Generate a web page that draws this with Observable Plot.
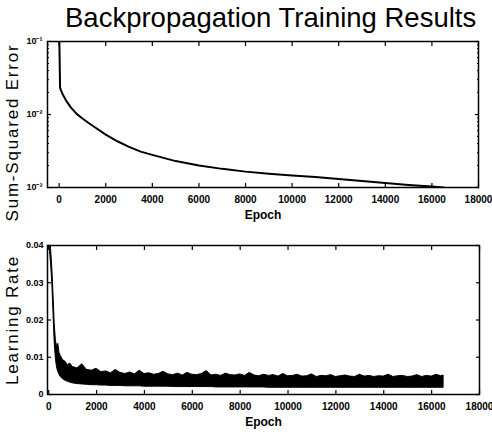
<!DOCTYPE html>
<html><head><meta charset="utf-8">
<script src="https://cdn.jsdelivr.net/npm/d3@7"></script>
<script src="https://cdn.jsdelivr.net/npm/@observablehq/plot@0.6"></script>
<style>
body{margin:0;background:#fff;width:492px;height:432px;overflow:hidden;font-family:"Liberation Sans",Arial,sans-serif;}
#title{height:34px;box-sizing:border-box;padding-left:65px;padding-top:4px;font-size:27.5px;line-height:27px;color:#000;white-space:nowrap;}
svg{display:block}
</style></head><body>
<div id="title">Backpropagation Training Results</div>
<div id="chart"></div>
<script>
// Top panel: sum-squared error (log scale)
const sseEpoch = [0, 40, 150, 300, 500, 750, 1000, 1250, 1500, 2000, 2500, 3000, 3500, 4000, 5000, 6000, 7000, 8000, 9000, 10000, 11000, 12000, 13000, 14000, 15000, 16000, 16500];
const sseValue = [0.15, 0.023, 0.019, 0.0155, 0.0125, 0.0102, 0.0088, 0.0077, 0.0068, 0.0053, 0.0043, 0.0036, 0.0031, 0.0028, 0.0023, 0.0020, 0.0018, 0.00165, 0.00154, 0.00146, 0.00139, 0.00131, 0.00123, 0.00115, 0.00108, 0.00103, 0.0010];

// Bottom panel: learning rate (noisy band: lower and upper envelope)
const lrEpoch = [0,50,100,150,200,250,300,350,400,450,500,600,700,800,900,1000,
  1200,1400,1600,1800,2000,2200,2400,2600,2800,3000,3200,3400,3600,3800,4000,4200,4400,4600,4800,5000,
  5200,5400,5600,5800,6000,6200,6400,6600,6800,7000,7200,7400,7600,7800,8000,8200,8400,8600,8800,9000,
  9200,9400,9600,9800,10000,10200,10400,10600,10800,11000,11200,11400,11600,11800,12000,12200,12400,12600,12800,13000,
  13200,13400,13600,13800,14000,14200,14400,14600,14800,15000,15200,15400,15600,15800,16000,16200,16400,16500];
const lrUpper = [0.046,0.043,0.039,0.034,0.027,0.019,0.0145,0.0128,0.0136,0.0112,0.0104,0.0092,0.0088,0.0079,0.0083,0.0074,
  0.0070,0.0081,0.0066,0.0064,0.0069,0.0060,0.0062,0.0057,0.0066,0.0058,0.0055,0.0059,0.0054,0.0064,0.0055,0.0057,0.0053,0.0055,0.0061,0.0054,
  0.0052,0.0056,0.0051,0.0058,0.0053,0.0052,0.0055,0.0063,0.0051,0.0053,0.0050,0.0056,0.0052,0.0051,0.0054,0.0050,0.0058,0.0051,0.0049,0.0053,
  0.0050,0.0052,0.0048,0.0055,0.0049,0.0050,0.0053,0.0048,0.0049,0.0054,0.0047,0.0050,0.0049,0.0052,0.0047,0.0049,0.0051,0.0048,0.0047,0.0053,
  0.0048,0.0050,0.0047,0.0049,0.0048,0.0053,0.0047,0.0049,0.0050,0.0047,0.0048,0.0052,0.0047,0.0050,0.0048,0.0053,0.0049,0.0051];
const lrLower = [0.042,0.039,0.035,0.030,0.022,0.014,0.0095,0.0072,0.0060,0.0053,0.0047,0.0041,0.0037,0.0034,0.0032,0.0030,
  0.0028,0.0027,0.0026,0.0025,0.0025,0.0024,0.0024,0.0023,0.0023,0.0023,0.0022,0.0022,0.0022,0.0022,0.0021,0.0021,0.0021,0.0021,0.0021,0.0021,
  0.0020,0.0020,0.0020,0.0020,0.0020,0.0020,0.0020,0.0020,0.0020,0.0019,0.0019,0.0019,0.0019,0.0019,0.0019,0.0019,0.0019,0.0019,0.0019,0.0019,
  0.0018,0.0018,0.0018,0.0018,0.0018,0.0018,0.0018,0.0018,0.0018,0.0018,0.0018,0.0018,0.0018,0.0018,0.0018,0.0018,0.0018,0.0018,0.0018,0.0018,
  0.0018,0.0018,0.0018,0.0018,0.0018,0.0018,0.0018,0.0018,0.0018,0.0018,0.0018,0.0018,0.0018,0.0018,0.0018,0.0018,0.0018,0.0018];

// Ticks and labels
const xTicks = [0,2000,4000,6000,8000,10000,12000,14000,16000,18000];
const sseTicks = [1e-3, 1e-2, 1e-1];
const sseTickLabels = ["10\u207B\u00B3", "10\u207B\u00B2", "10\u207B\u00B9"];
const lrTicks = [0, 0.01, 0.02, 0.03, 0.04];
const lrTickLabels = ["0", "0.01", "0.02", "0.03", "0.04"];
const xLabel = "Epoch";
const sseLabel = "Sum-Squared Error";
const lrLabel = "Learning Rate";

const sse = sseEpoch.map((e, i) => ({epoch: e, value: sseValue[i]}));
const lr = lrEpoch.map((e, i) => ({epoch: e, upper: lrUpper[i], lower: lrLower[i]}));
const minorLog = d3.scaleLog().domain([1e-3, 1e-1]).ticks();
const font = "Liberation Sans, Arial, sans-serif";
const blank = () => "";

const innerTicks = (xt, yt, ytMinor) => [
  Plot.axisX(xt, {anchor: "bottom", tickSize: -4, tickFormat: blank, label: null, strokeWidth: 1.2}),
  Plot.axisX(xt, {anchor: "top", tickSize: -4, tickFormat: blank, label: null, strokeWidth: 1.2}),
  Plot.axisY(yt, {anchor: "left", tickSize: -4, tickFormat: blank, label: null, strokeWidth: 1.2}),
  Plot.axisY(yt, {anchor: "right", tickSize: -4, tickFormat: blank, label: null, strokeWidth: 1.2}),
  ...(ytMinor ? [
    Plot.axisY(ytMinor, {anchor: "left", tickSize: -2, tickFormat: blank, label: null}),
    Plot.axisY(ytMinor, {anchor: "right", tickSize: -2, tickFormat: blank, label: null})
  ] : [])
];

const topPlot = Plot.plot({
  width: 492, height: 194,
  marginTop: 7, marginLeft: 47, marginRight: 14, marginBottom: 41,
  style: {fontFamily: font, color: "black", background: "white", overflow: "visible"},
  x: {domain: [-500, 18000]},
  y: {type: "log", domain: [1e-3, 1e-1]},
  marks: [
    Plot.line(sse, {x: "epoch", y: "value", stroke: "black", strokeWidth: 2, clip: true}),
    Plot.frame({stroke: "black", strokeWidth: 1.5}),
    ...innerTicks(xTicks, sseTicks, minorLog),
    Plot.axisX(xTicks, {anchor: "bottom", tickSize: 0, tickPadding: 8, fontSize: 10, fontWeight: "bold", label: null, tickFormat: d => String(d)}),
    Plot.axisY(sseTicks, {anchor: "left", tickSize: 0, tickPadding: 5, fontSize: 9, fontWeight: "bold", label: null,
      tickFormat: d => sseTickLabels[sseTicks.indexOf(d)]}),
    Plot.text([xLabel], {text: d => d, frameAnchor: "bottom", textAnchor: "middle", lineAnchor: "middle", dy: 28, fontSize: 12, fontWeight: "bold"}),
    Plot.text([sseLabel], {text: d => d, frameAnchor: "left", textAnchor: "middle", lineAnchor: "middle", rotate: -90, dx: -35, dy: 18, fontSize: 17})
  ]
});

const bottomPlot = Plot.plot({
  width: 492, height: 204,
  marginTop: 17, marginLeft: 47, marginRight: 13, marginBottom: 38,
  style: {fontFamily: font, color: "black", background: "white", overflow: "visible"},
  x: {domain: [-50, 18000]},
  y: {domain: [0, 0.04]},
  marks: [
    Plot.areaY(lr, {x: "epoch", y1: "lower", y2: "upper", fill: "black", stroke: "black", strokeWidth: 1, clip: true}),
    Plot.frame({stroke: "black", strokeWidth: 1.5}),
    ...innerTicks(xTicks, lrTicks, null),
    Plot.axisX(xTicks, {anchor: "bottom", tickSize: 0, tickPadding: 8, fontSize: 10, fontWeight: "bold", label: null, tickFormat: d => String(d)}),
    Plot.axisY(lrTicks, {anchor: "left", tickSize: 0, tickPadding: 4, fontSize: 9, fontWeight: "bold", label: null,
      tickFormat: d => lrTickLabels[lrTicks.indexOf(d)]}),
    Plot.text([xLabel], {text: d => d, frameAnchor: "bottom", textAnchor: "middle", lineAnchor: "middle", dy: 28, fontSize: 12, fontWeight: "bold"}),
    Plot.text([lrLabel], {text: d => d, frameAnchor: "left", textAnchor: "middle", lineAnchor: "middle", rotate: -90, dx: -35, dy: 0, fontSize: 17})
  ]
});

// widen the rotated axis titles (the scanned original is horizontally stretched)
for (const svg of [topPlot, bottomPlot]) {
  svg.querySelectorAll("text").forEach(t => {
    if (t.textContent === sseLabel || t.textContent === lrLabel) t.setAttribute("letter-spacing", "1.8");
  });
}

const chart = document.getElementById("chart");
chart.appendChild(topPlot);
chart.appendChild(bottomPlot);
</script>
</body></html>
